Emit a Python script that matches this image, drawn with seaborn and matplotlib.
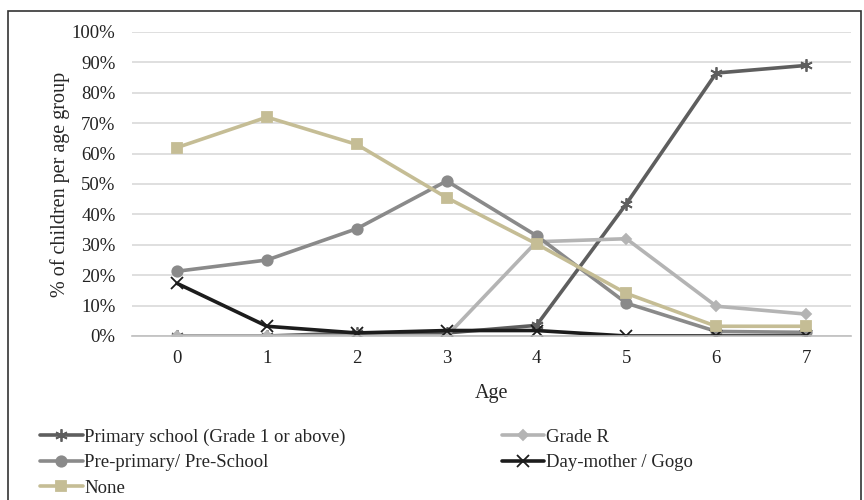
import numpy as np
import pandas as pd
import matplotlib.pyplot as plt
import seaborn as sns
from matplotlib.patches import Rectangle
from matplotlib.ticker import PercentFormatter

# data (% of children)
ages = [0, 1, 2, 3, 4, 5, 6, 7]
primary = [0, 0, 1, 1, 3.5, 43.5, 86.5, 89]
grade_r = [0, 0, 0, 0, 31, 32, 9.8, 7.2]
pre_primary = [21.3, 25, 35.3, 51, 33, 10.8, 1.5, 1.2]
day_mother = [17.3, 3.2, 1, 1.8, 1.8, 0, 0, 0]
none = [62, 72, 63, 45.5, 30.3, 14, 3.2, 3.2]

labels = ["Primary school (Grade 1 or above)", "Grade R", "Pre-primary/ Pre-School",
          "Day-mother / Gogo", "None"]
series = [primary, grade_r, pre_primary, day_mother, none]
colors = ["#5e5e5e", "#b4b4b4", "#8a8a8a", "#1c1c1c", "#c5bd95"]
markers = [(6, 2, 0), "D", "o", "x", "s"]
msizes = [9, 5, 7.5, 8, 7.5]

sns.set_style("white")
plt.rcParams['font.family'] = ['Liberation Serif', 'DejaVu Serif']

fig = plt.figure(figsize=(8.64, 5), dpi=100)
ax = fig.add_axes([0.153, 0.328, 0.832, 0.608])

for lab, vals, c, m, ms in zip(labels, series, colors, markers, msizes):
    sns.lineplot(x=ages, y=vals, ax=ax, color=c, marker=m, markersize=ms,
                 linewidth=2.6, markeredgecolor=c, markeredgewidth=1.3, label=lab)

ax.set_xlim(-0.5, 7.5)
ax.set_ylim(0, 100)
ax.set_yticks(np.arange(0, 101, 10))
ax.yaxis.set_major_formatter(PercentFormatter(decimals=0))
ax.set_xticks(ages)
ax.grid(axis='y', color='#d9d9d9', linewidth=1.2)
ax.set_axisbelow(True)
for s in ['top', 'right', 'left']:
    ax.spines[s].set_visible(False)
ax.spines['bottom'].set_color('#bfbfbf')
ax.spines['bottom'].set_linewidth(1.2)
ax.tick_params(axis='both', labelsize=13.5, length=0, colors='#222222')
ax.tick_params(axis='x', pad=10)
ax.tick_params(axis='y', pad=12)
ax.set_xlabel("Age", fontsize=14.5, labelpad=12)
ax.set_ylabel("% of children per age group", fontsize=14.5, labelpad=1)

h, l = ax.get_legend_handles_labels()
ax.get_legend().remove()
order = [0, 2, 4, 1, 3]
fig.legend([h[i] for i in order], [l[i] for i in order], ncol=2,
           loc='upper left', bbox_to_anchor=(0.038, 0.158), frameon=False,
           fontsize=13.5, handlelength=2.25, handletextpad=0.1,
           columnspacing=8.3, labelspacing=0.45, borderaxespad=0)

fig.patches.append(Rectangle((0.009, -0.02), 0.988, 0.998, transform=fig.transFigure,
                             fill=False, edgecolor='#333333', linewidth=1.2))

fig.savefig("out.png", dpi=100)
